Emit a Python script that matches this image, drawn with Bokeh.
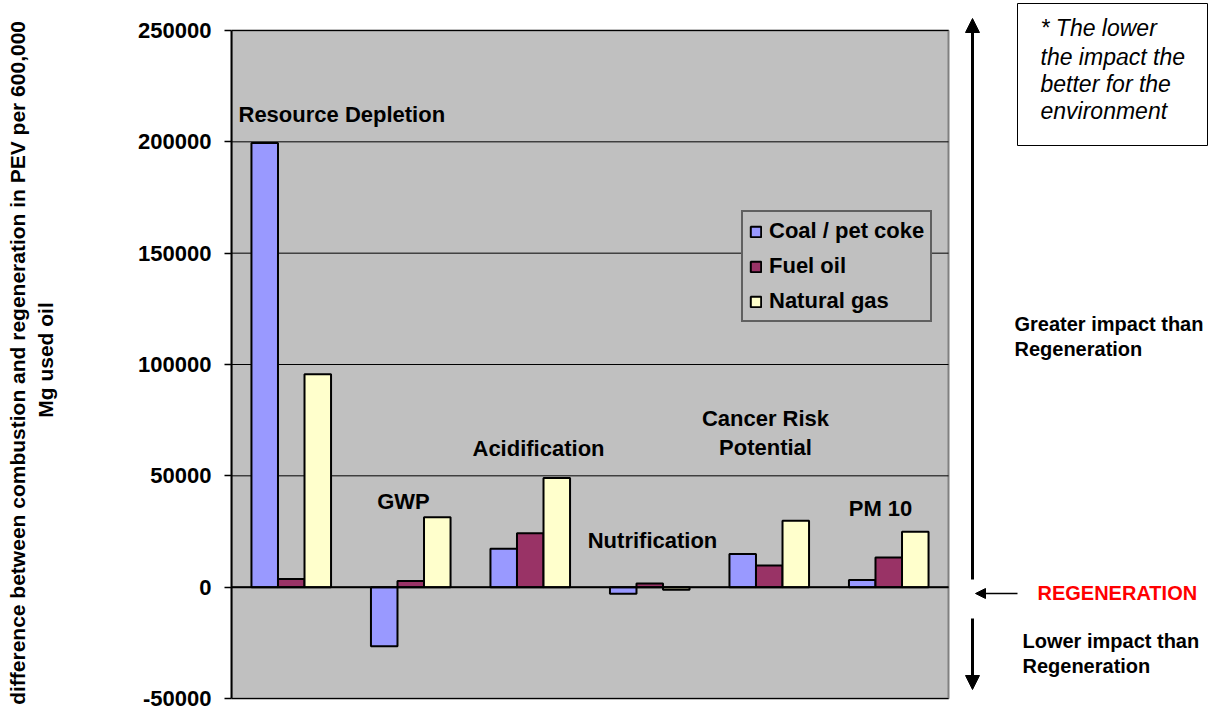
import numpy as np
from bokeh.plotting import figure
from bokeh.models import (Range1d, Label, Legend, LegendItem, FixedTicker,
                          NumeralTickFormatter, ColumnDataSource, Arrow, NormalHead)
from bokeh.core.properties import value
from bokeh.embed import file_html
from bokeh.resources import INLINE

# ---------------- data ----------------
categories = ["Resource Depletion", "GWP", "Acidification", "Nutrification",
              "Cancer Risk Potential", "PM 10"]
series_names = ["Coal / pet coke", "Fuel oil", "Natural gas"]
coal = [199500, -26500, 17200, -3000, 14900, 3200]
fuel_oil = [3700, 2800, 24200, 1700, 9700, 13300]
natural_gas = [95600, 31400, 49000, -1200, 29800, 24900]
y_ticks = [-50000, 0, 50000, 100000, 150000, 200000, 250000]
y_min, y_max = -50000, 250000

colors = ["#9999ff", "#993366", "#ffffcc"]
FONT = "Liberation Sans"

# ---------------- layout geometry (pixels) ----------------
W, H = 1220, 719
LEFT = 231           # left edge of plot area
AREA_W = 717         # plot-area width
AREA_TOP, AREA_BOT = 30, 698
n = len(categories)
px_per_unit = AREA_W / n
px_per_val = (AREA_BOT - AREA_TOP) / (y_max - y_min)


def sx2x(sx):
    return (sx - LEFT) / px_per_unit


def sy2y(sy):
    return y_max - (sy - AREA_TOP) / px_per_val


p = figure(width=W, height=H, x_range=Range1d(0, sx2x(W)),
           y_range=Range1d(sy2y(H), sy2y(0)), output_backend="svg",
           toolbar_location=None, x_axis_location=None,
           min_border_left=LEFT, min_border_right=0, min_border_top=0,
           min_border_bottom=0)
p.background_fill_color = "white"
p.border_fill_color = "white"
p.outline_line_color = None
p.xgrid.visible = False
p.ygrid.visible = False

ax = p.yaxis[0]
ax.bounds = (y_min, y_max)
ax.ticker = FixedTicker(ticks=y_ticks)
ax.formatter = NumeralTickFormatter(format="0")
ax.major_label_text_font = FONT
ax.major_label_text_font_style = "bold"
ax.major_label_text_font_size = "22px"
ax.major_label_text_color = "black"
ax.major_tick_out = 7
ax.major_tick_in = 0
ax.minor_tick_out = 0
ax.minor_tick_in = 0
ax.axis_line_width = 2
ax.axis_line_color = "black"
ax.major_tick_line_width = 1.5
ax.major_label_standoff = 13
ax.axis_label = ("difference between combustion and regeneration  in PEV per 600,000"
                 "\nMg used oil")
ax.axis_label_text_font = FONT
ax.axis_label_text_font_style = "bold"
ax.axis_label_text_font_size = "21px"
ax.axis_label_text_color = "black"
ax.axis_label_standoff = 78

# plot area background and grid
p.quad(left=[0], right=[n], bottom=[y_min], top=[y_max], fill_color="#c0c0c0",
       line_color="#808080", line_width=2)
p.segment(x0=[0] * len(y_ticks), x1=[n] * len(y_ticks), y0=y_ticks, y1=y_ticks,
          line_color="black", line_width=1)

centers = np.arange(n) + 0.5
bw = 0.222
renderers = []
for k, (vals, col) in enumerate(zip([coal, fuel_oil, natural_gas], colors)):
    src = ColumnDataSource(dict(x=centers + (k - 1) * bw, top=vals,
                                bottom=[0] * len(vals)))
    r = p.vbar(x="x", top="top", bottom="bottom", width=bw, source=src,
               fill_color=col, line_color="black", line_width=2)
    renderers.append(r)

p.segment(x0=[0], x1=[n], y0=[0], y1=[0], line_color="black", line_width=2)

legend = Legend(items=[LegendItem(label=nm, renderers=[r]) for nm, r in zip(series_names, renderers)],
                location=(741 - LEFT, H - 322), margin=0, padding=6, spacing=9,
                glyph_width=13, glyph_height=13, label_standoff=7, label_height=22,
                label_text_font=FONT, label_text_font_style="bold",
                label_text_font_size="22px", label_text_color="black",
                border_line_color="black", border_line_width=2,
                background_fill_color="#c0c0c0", background_fill_alpha=1)
p.add_layout(legend)

# category labels inside the plot
cat_labels = [
    ("Resource Depletion", 238, 114, "left"),
    ("GWP", 403, 501, "center"),
    ("Acidification", 538, 448, "center"),
    ("Nutrification", 652, 540, "center"),
    ("Cancer Risk", 765, 418, "center"),
    ("Potential", 765, 447, "center"),
    ("PM 10", 880, 508, "center"),
]
for txt, sx, sy, al in cat_labels:
    p.add_layout(Label(x=sx2x(sx), y=sy2y(sy), text=txt, text_align=al,
                       text_baseline="middle", text_font=FONT, text_font_style="bold",
                       text_font_size="22px", text_color="black"))

# ---------------- right-hand annotations ----------------
def arrow(x0, y0, x1, y1, size, lw):
    p.add_layout(Arrow(end=NormalHead(size=size, fill_color="black", line_color="black"),
                       x_start=sx2x(x0), y_start=sy2y(y0), x_end=sx2x(x1), y_end=sy2y(y1),
                       line_width=lw, line_color="black"))


arrow(972, 579, 972, 18, 14, 3)
arrow(972, 618, 972, 689, 14, 3)
arrow(1017, 593, 975, 593, 10, 1.5)

p.quad(left=[sx2x(1017)], right=[sx2x(1207)], top=[sy2y(3)], bottom=[sy2y(145)],
       fill_color="white", line_color="black", line_width=1)
note_lines = ["* The lower", "the impact the", "better for the", "environment"]
note_sy = [27, 56, 83, 110]
p.text(x=[sx2x(1040)] * 4, y=[sy2y(s) for s in note_sy], text=note_lines,
       text_font=value(FONT), text_font_style="italic", text_font_size="23px",
       text_baseline="middle", text_align="left", text_color="black")


def rtext(sx, sys_, lines, color="black"):
    p.text(x=[sx2x(sx)] * len(lines), y=[sy2y(s) for s in sys_], text=lines,
           text_font=value(FONT), text_font_style="bold", text_font_size="20px",
           text_baseline="middle", text_align="left", text_color=color)


rtext(1014, [323, 348], ["Greater impact than", "Regeneration"])
rtext(1037, [592], ["REGENERATION"], "#ff0000")
rtext(1022, [640, 665], ["Lower impact than", "Regeneration"])

open("out.html", "w").write(file_html(p, INLINE))
